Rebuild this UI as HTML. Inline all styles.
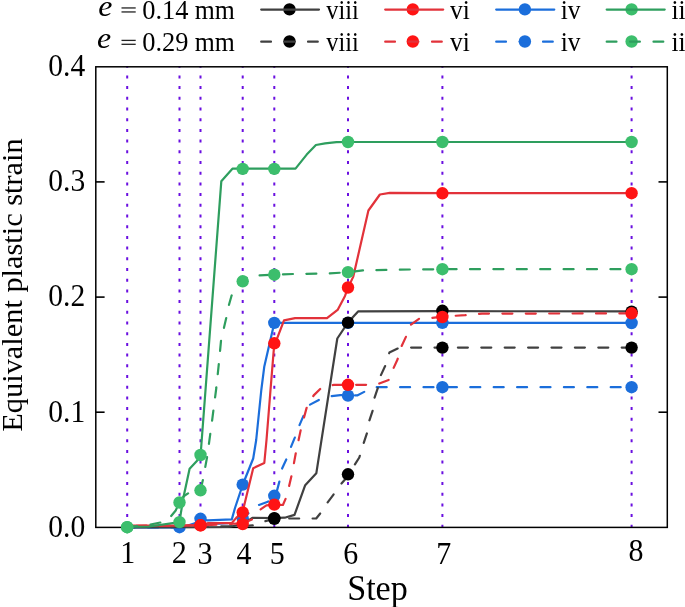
<!DOCTYPE html>
<html><head><meta charset="utf-8"><style>
html,body{margin:0;padding:0;background:#fff;}
body{width:685px;height:607px;overflow:hidden;font-family:"Liberation Serif",serif;}
svg{display:block;will-change:transform;}
</style></head><body>
<svg width="685" height="607" viewBox="0 0 685 607">
<rect width="685" height="607" fill="#fff"/>
<g>
<line x1="127.2" y1="66.05" x2="127.2" y2="527.4" stroke="#6A0FE0" stroke-width="2" stroke-dasharray="3 7.7" stroke-dashoffset="1.35"/>
<line x1="179.5" y1="66.05" x2="179.5" y2="527.4" stroke="#6A0FE0" stroke-width="2" stroke-dasharray="3 7.7" stroke-dashoffset="1.35"/>
<line x1="200.5" y1="66.05" x2="200.5" y2="527.4" stroke="#6A0FE0" stroke-width="2" stroke-dasharray="3 7.7" stroke-dashoffset="1.35"/>
<line x1="242.7" y1="66.05" x2="242.7" y2="527.4" stroke="#6A0FE0" stroke-width="2" stroke-dasharray="3 7.7" stroke-dashoffset="1.35"/>
<line x1="274.3" y1="66.05" x2="274.3" y2="527.4" stroke="#6A0FE0" stroke-width="2" stroke-dasharray="3 7.7" stroke-dashoffset="1.35"/>
<line x1="348.0" y1="66.05" x2="348.0" y2="527.4" stroke="#6A0FE0" stroke-width="2" stroke-dasharray="3 7.7" stroke-dashoffset="1.35"/>
<line x1="442.4" y1="66.05" x2="442.4" y2="527.4" stroke="#6A0FE0" stroke-width="2" stroke-dasharray="3 7.7" stroke-dashoffset="1.35"/>
<line x1="631.6" y1="66.05" x2="631.6" y2="527.4" stroke="#6A0FE0" stroke-width="2" stroke-dasharray="3 7.7" stroke-dashoffset="1.35"/>
<rect x="95.8" y="66.8" width="571.5" height="460.59999999999997" fill="none" stroke="#000" stroke-width="1.5"/>
<line x1="95.8" y1="412.2" x2="104.6" y2="412.2" stroke="#000" stroke-width="1.6"/>
<line x1="667.3" y1="412.2" x2="658.5" y2="412.2" stroke="#000" stroke-width="1.6"/>
<line x1="95.8" y1="297.1" x2="104.6" y2="297.1" stroke="#000" stroke-width="1.6"/>
<line x1="667.3" y1="297.1" x2="658.5" y2="297.1" stroke="#000" stroke-width="1.6"/>
<line x1="95.8" y1="181.9" x2="104.6" y2="181.9" stroke="#000" stroke-width="1.6"/>
<line x1="667.3" y1="181.9" x2="658.5" y2="181.9" stroke="#000" stroke-width="1.6"/>
<path d="M127.2,527.3 L175.0,527.3 L184.7,526.5 L194.0,523.6 L201.6,519.5 L207.6,520.3 L231.8,519.4 L235.0,508.0 L242.8,484.5 L253.2,458.5 L256.2,440.0 L261.3,390.0 L264.3,366.4 L272.8,329.5 L274.4,322.9 L631.6,322.9" fill="none" stroke="#1B6EDB" stroke-width="2.2" stroke-linejoin="round" stroke-linecap="round"/>
<circle cx="179.5" cy="527.2" r="6.2" fill="#1B6EDB"/>
<circle cx="200.5" cy="518.8" r="6.2" fill="#1B6EDB"/>
<circle cx="242.7" cy="484.6" r="6.2" fill="#1B6EDB"/>
<circle cx="274.3" cy="322.9" r="6.2" fill="#1B6EDB"/>
<circle cx="348.0" cy="322.9" r="6.2" fill="#1B6EDB"/>
<circle cx="442.4" cy="322.9" r="6.2" fill="#1B6EDB"/>
<circle cx="631.6" cy="323.0" r="6.2" fill="#1B6EDB"/>
<path d="M127.2,527.4 L179.4,527.4 L201.6,524.5 L231.5,523.0 L236.0,520.5 L242.8,518.3 L252.0,510.0 L258.8,505.0 L267.8,501.8 L274.3,496.0 L277.0,490.6 L279.6,480.7 L282.2,468.2 L286.7,458.5 L291.1,446.7 L294.8,437.7 L298.8,426.7 L303.5,415.8 L308.2,405.6 L319.1,399.8 L331.7,396.2 L340.3,395.1 L348.1,395.6 L357.2,395.4 L364.5,391.7 L376.2,387.2 L442.4,387.2 L631.6,387.2" fill="none" stroke="#1B6EDB" stroke-width="2.2" stroke-linejoin="round" stroke-linecap="round" stroke-dasharray="10.0 13.4" stroke-dashoffset="2.56"/>
<circle cx="242.7" cy="518.3" r="6.2" fill="#1B6EDB"/>
<circle cx="274.3" cy="495.8" r="6.2" fill="#1B6EDB"/>
<circle cx="348.0" cy="395.6" r="6.2" fill="#1B6EDB"/>
<circle cx="442.4" cy="387.2" r="6.2" fill="#1B6EDB"/>
<circle cx="631.6" cy="387.2" r="6.2" fill="#1B6EDB"/>
<path d="M127.2,527.4 L228.0,527.0 L242.7,524.3 L252.3,517.9 L274.4,518.0 L284.7,517.7 L294.5,514.9 L305.2,485.2 L316.3,473.3 L337.3,338.5 L347.9,322.6 L358.1,311.4 L442.0,311.2 L631.6,311.4" fill="none" stroke="#404040" stroke-width="2.2" stroke-linejoin="round" stroke-linecap="round"/>
<circle cx="274.3" cy="518.2" r="6.2" fill="#000000"/>
<circle cx="348.0" cy="322.6" r="6.2" fill="#000000"/>
<circle cx="442.4" cy="310.8" r="6.2" fill="#000000"/>
<circle cx="631.6" cy="311.6" r="6.2" fill="#000000"/>
<path d="M127.2,526.8 L242.7,526.2" fill="none" stroke="#404040" stroke-width="2.2" stroke-linejoin="round" stroke-linecap="round" stroke-dasharray="10.0 13.4" stroke-dashoffset="23.00"/>
<path d="M242.7,526.2 L254.0,525.3 L265.4,521.1 L274.4,518.7" fill="none" stroke="#404040" stroke-width="2.2" stroke-linejoin="round" stroke-linecap="round" stroke-dasharray="10.0 13.4" stroke-dashoffset="23.30"/>
<path d="M274.4,518.7 L289.3,518.5 L316.2,518.5 L320.2,513.5 L326.7,503.7 L333.3,494.8 L340.7,484.4 L345.2,479.3 L348.1,474.4 L354.5,465.1 L359.3,457.5 L361.0,452.0 L363.6,443.4 L367.2,432.5 L369.0,421.6 L372.6,410.8 L374.4,398.1 L378.1,387.2 L380.8,375.4 L385.3,365.7 L389.4,352.6 L397.6,348.5 L410.8,347.6 L442.1,347.6 L631.6,347.6" fill="none" stroke="#404040" stroke-width="2.2" stroke-linejoin="round" stroke-linecap="round" stroke-dasharray="10.0 13.4" stroke-dashoffset="8.61"/>
<circle cx="274.3" cy="518.8" r="6.2" fill="#000000"/>
<circle cx="348.0" cy="474.3" r="6.2" fill="#000000"/>
<circle cx="442.4" cy="347.6" r="6.2" fill="#000000"/>
<circle cx="631.6" cy="347.6" r="6.2" fill="#000000"/>
<path d="M127.2,525.5 L179.4,525.6 L201.6,525.0 L207.6,523.2 L231.5,523.2 L232.7,522.0 L236.2,517.9 L238.0,516.2 L242.5,512.4 L253.2,468.2 L264.3,463.0 L266.5,440.0 L270.5,390.0 L273.5,353.2 L274.4,343.3 L277.5,337.4 L284.0,320.3 L295.1,318.2 L327.0,318.2 L337.6,309.9 L345.0,295.9 L348.1,287.5 L353.3,276.6 L368.4,210.5 L379.9,194.5 L389.8,192.9 L442.5,193.2 L631.6,193.2" fill="none" stroke="#E2323A" stroke-width="2.2" stroke-linejoin="round" stroke-linecap="round"/>
<circle cx="200.5" cy="525.3" r="6.2" fill="#FF1414"/>
<circle cx="242.7" cy="512.4" r="6.2" fill="#FF1414"/>
<circle cx="274.3" cy="343.3" r="6.2" fill="#FF1414"/>
<circle cx="348.0" cy="287.5" r="6.2" fill="#FF1414"/>
<circle cx="442.4" cy="193.3" r="6.2" fill="#FF1414"/>
<circle cx="631.6" cy="193.2" r="6.2" fill="#FF1414"/>
<path d="M127.2,525.8 L201.6,525.4 L231.5,523.8 L236.0,523.5 L242.5,524.0" fill="none" stroke="#E2323A" stroke-width="2.2" stroke-linejoin="round" stroke-linecap="round" stroke-dasharray="10.0 13.4" stroke-dashoffset="14.16"/>
<path d="M242.5,524.0 L249.5,520.5 L252.6,519.1 L259.9,509.8 L266.4,505.3 L274.3,504.7" fill="none" stroke="#E2323A" stroke-width="2.2" stroke-linejoin="round" stroke-linecap="round" stroke-dasharray="10.0 13.4" stroke-dashoffset="22.90"/>
<path d="M274.3,504.7 L282.9,505.0 L286.7,496.3 L291.9,474.1 L296.3,450.4 L301.1,428.3 L306.6,407.9 L313.7,395.4 L321.5,387.6 L334.0,384.8 L348.1,384.8 L376.0,384.8 L389.4,379.7 L393.5,368.2 L397.6,359.2 L400.9,347.6 L405.9,336.9 L410.0,325.4 L419.0,318.8 L431.4,318.0 L442.1,316.6 L465.0,315.2 L482.0,313.6 L631.6,313.4" fill="none" stroke="#E2323A" stroke-width="2.2" stroke-linejoin="round" stroke-linecap="round" stroke-dasharray="10.0 13.4" stroke-dashoffset="18.12"/>
<circle cx="200.5" cy="525.3" r="6.2" fill="#FF1414"/>
<circle cx="242.7" cy="524.0" r="6.2" fill="#FF1414"/>
<circle cx="274.3" cy="504.6" r="6.2" fill="#FF1414"/>
<circle cx="348.0" cy="384.8" r="6.2" fill="#FF1414"/>
<circle cx="442.4" cy="317.0" r="6.2" fill="#FF1414"/>
<circle cx="631.6" cy="313.3" r="6.2" fill="#FF1414"/>
<path d="M127.2,527.0 L149.0,526.5 L172.8,523.1 L179.4,522.1 L183.3,498.1 L189.6,468.8 L197.3,460.4 L200.6,455.0 L221.3,181.3 L232.4,168.7 L295.5,168.6 L306.7,154.6 L315.9,145.0 L325.1,143.4 L336.4,142.2 L347.9,142.0 L631.6,142.0" fill="none" stroke="#2E9E5E" stroke-width="2.2" stroke-linejoin="round" stroke-linecap="round"/>
<circle cx="127.2" cy="527.2" r="6.2" fill="#3CBE6C"/>
<circle cx="179.5" cy="522.1" r="6.2" fill="#3CBE6C"/>
<circle cx="200.5" cy="455.0" r="6.2" fill="#3CBE6C"/>
<circle cx="242.7" cy="168.9" r="6.2" fill="#3CBE6C"/>
<circle cx="274.3" cy="168.9" r="6.2" fill="#3CBE6C"/>
<circle cx="348.0" cy="142.0" r="6.2" fill="#3CBE6C"/>
<circle cx="442.4" cy="142.0" r="6.2" fill="#3CBE6C"/>
<circle cx="631.6" cy="142.0" r="6.2" fill="#3CBE6C"/>
<path d="M127.2,527.0 L149.0,524.8 L161.0,522.4 L167.0,521.0 L175.7,510.5 L179.3,502.5" fill="none" stroke="#2E9E5E" stroke-width="2.2" stroke-linejoin="round" stroke-linecap="round" stroke-dasharray="10.0 13.4" stroke-dashoffset="23.36"/>
<path d="M179.3,502.5 L184.0,496.0 L188.2,493.3 L195.0,491.0 L200.5,490.3 L203.0,479.5 L207.0,457.5 L208.9,443.9 L212.0,421.3 L216.3,388.0 L218.8,364.1 L221.0,340.9 L223.8,328.5 L226.3,317.8 L228.8,305.4 L231.6,295.5 L237.9,285.7 L242.7,281.3 L248.0,276.5 L258.5,275.4 L274.2,274.7 L293.5,274.0 L329.0,273.5 L347.9,272.2 L362.8,270.4 L386.4,269.9 L410.0,269.5 L442.5,269.2 L631.6,269.2" fill="none" stroke="#2E9E5E" stroke-width="2.2" stroke-linejoin="round" stroke-linecap="round" stroke-dasharray="10.0 13.4" stroke-dashoffset="20.56"/>
<circle cx="127.2" cy="527.2" r="6.2" fill="#3CBE6C"/>
<circle cx="179.5" cy="502.5" r="6.2" fill="#3CBE6C"/>
<circle cx="200.5" cy="490.3" r="6.2" fill="#3CBE6C"/>
<circle cx="242.7" cy="281.3" r="6.2" fill="#3CBE6C"/>
<circle cx="274.3" cy="274.7" r="6.2" fill="#3CBE6C"/>
<circle cx="348.0" cy="272.2" r="6.2" fill="#3CBE6C"/>
<circle cx="442.4" cy="269.2" r="6.2" fill="#3CBE6C"/>
<circle cx="631.6" cy="269.2" r="6.2" fill="#3CBE6C"/>
<text transform="translate(85.20,536.70) scale(0.985,1.075)" text-anchor="end" font-family="Liberation Serif" font-size="30">0.0</text>
<text transform="translate(85.20,421.55) scale(0.985,1.075)" text-anchor="end" font-family="Liberation Serif" font-size="30">0.1</text>
<text transform="translate(85.20,306.40) scale(0.985,1.075)" text-anchor="end" font-family="Liberation Serif" font-size="30">0.2</text>
<text transform="translate(85.20,191.25) scale(0.985,1.075)" text-anchor="end" font-family="Liberation Serif" font-size="30">0.3</text>
<text transform="translate(85.20,76.10) scale(0.985,1.075)" text-anchor="end" font-family="Liberation Serif" font-size="30">0.4</text>
<text transform="translate(127.85,562.60) scale(1.0,1.055)" text-anchor="middle" font-family="Liberation Serif" font-size="30">1</text>
<text transform="translate(179.25,562.90) scale(1.0,1.055)" text-anchor="middle" font-family="Liberation Serif" font-size="30">2</text>
<text transform="translate(205.05,563.90) scale(1.0,1.055)" text-anchor="middle" font-family="Liberation Serif" font-size="30">3</text>
<text transform="translate(244.10,563.90) scale(1.0,1.055)" text-anchor="middle" font-family="Liberation Serif" font-size="30">4</text>
<text transform="translate(277.30,563.90) scale(1.0,1.055)" text-anchor="middle" font-family="Liberation Serif" font-size="30">5</text>
<text transform="translate(350.85,563.90) scale(1.0,1.055)" text-anchor="middle" font-family="Liberation Serif" font-size="30">6</text>
<text transform="translate(443.70,563.90) scale(1.0,1.055)" text-anchor="middle" font-family="Liberation Serif" font-size="30">7</text>
<text transform="translate(636.05,561.00) scale(1.0,1.055)" text-anchor="middle" font-family="Liberation Serif" font-size="30">8</text>
<text transform="translate(377.50,599.50) scale(1.035,1.08)" text-anchor="middle" font-family="Liberation Serif" font-size="33">Step</text>
<text transform="translate(21.9,285) rotate(-90) scale(1.012,1.01)" text-anchor="middle" font-family="Liberation Serif" font-size="30">Equivalent plastic strain</text>
<text transform="translate(98.30,16.00) scale(1.1,1.0)" font-style="italic" font-family="Liberation Serif" font-size="29">e</text>
<text transform="translate(142.30,18.70) scale(1.036,1.065)" font-family="Liberation Serif" font-size="25.5">0.14</text>
<text transform="translate(194.80,18.70) scale(1.01,1.065)" font-family="Liberation Serif" font-size="25.5">mm</text>
<line x1="121.5" y1="7.95" x2="135.7" y2="7.95" stroke="#222" stroke-width="1.3"/>
<line x1="121.5" y1="11.95" x2="135.7" y2="11.95" stroke="#222" stroke-width="1.3"/>
<text transform="translate(97.00,47.80) scale(1.1,1.0)" font-style="italic" font-family="Liberation Serif" font-size="29">e</text>
<text transform="translate(142.30,50.70) scale(1.036,1.065)" font-family="Liberation Serif" font-size="25.5">0.29</text>
<text transform="translate(194.80,50.70) scale(1.01,1.065)" font-family="Liberation Serif" font-size="25.5">mm</text>
<line x1="121.5" y1="40.4" x2="135.7" y2="40.4" stroke="#222" stroke-width="1.3"/>
<line x1="121.5" y1="44.3" x2="135.7" y2="44.3" stroke="#222" stroke-width="1.3"/>
<circle cx="289.5" cy="9.4" r="6.2" fill="#000000"/>
<line x1="261.2" y1="9.6" x2="319.0" y2="9.6" stroke="#404040" stroke-width="2.2" stroke-linecap="round"/>
<text transform="translate(326.30,18.70) scale(0.955,1.06)" font-family="Liberation Serif" font-size="25.5">viii</text>
<circle cx="412.8" cy="9.4" r="6.2" fill="#FF1414"/>
<line x1="385.2" y1="9.6" x2="443.2" y2="9.6" stroke="#E2323A" stroke-width="2.2" stroke-linecap="round"/>
<text transform="translate(450.00,18.70) scale(1.0,1.06)" font-family="Liberation Serif" font-size="25.5">vi</text>
<circle cx="524.9" cy="9.4" r="6.2" fill="#1B6EDB"/>
<line x1="496.2" y1="9.6" x2="554.3" y2="9.6" stroke="#1B6EDB" stroke-width="2.2" stroke-linecap="round"/>
<text transform="translate(560.70,18.70) scale(1.0,1.06)" font-family="Liberation Serif" font-size="25.5">iv</text>
<circle cx="631.6" cy="9.4" r="6.2" fill="#3CBE6C"/>
<line x1="606.7" y1="9.6" x2="664.7" y2="9.6" stroke="#2E9E5E" stroke-width="2.2" stroke-linecap="round"/>
<text transform="translate(671.50,18.70) scale(1.0,1.06)" font-family="Liberation Serif" font-size="25.5">ii</text>
<circle cx="289.5" cy="41.5" r="6.2" fill="#000000"/>
<line x1="261.2" y1="41.7" x2="319.0" y2="41.7" stroke="#404040" stroke-width="2.2" stroke-linecap="round" stroke-dasharray="9.8 13.6"/>
<text transform="translate(326.30,50.70) scale(0.955,1.06)" font-family="Liberation Serif" font-size="25.5">viii</text>
<circle cx="412.8" cy="41.5" r="6.2" fill="#FF1414"/>
<line x1="385.2" y1="41.7" x2="443.2" y2="41.7" stroke="#E2323A" stroke-width="2.2" stroke-linecap="round" stroke-dasharray="9.8 13.6"/>
<text transform="translate(450.00,50.70) scale(1.0,1.06)" font-family="Liberation Serif" font-size="25.5">vi</text>
<circle cx="524.9" cy="41.5" r="6.2" fill="#1B6EDB"/>
<line x1="496.2" y1="41.7" x2="554.3" y2="41.7" stroke="#1B6EDB" stroke-width="2.2" stroke-linecap="round" stroke-dasharray="9.8 13.6"/>
<text transform="translate(560.70,50.70) scale(1.0,1.06)" font-family="Liberation Serif" font-size="25.5">iv</text>
<circle cx="631.6" cy="41.5" r="6.2" fill="#3CBE6C"/>
<line x1="606.7" y1="41.7" x2="664.7" y2="41.7" stroke="#2E9E5E" stroke-width="2.2" stroke-linecap="round" stroke-dasharray="9.8 13.6"/>
<text transform="translate(671.50,50.70) scale(1.0,1.06)" font-family="Liberation Serif" font-size="25.5">ii</text>
</g>
</svg>
</body></html>
